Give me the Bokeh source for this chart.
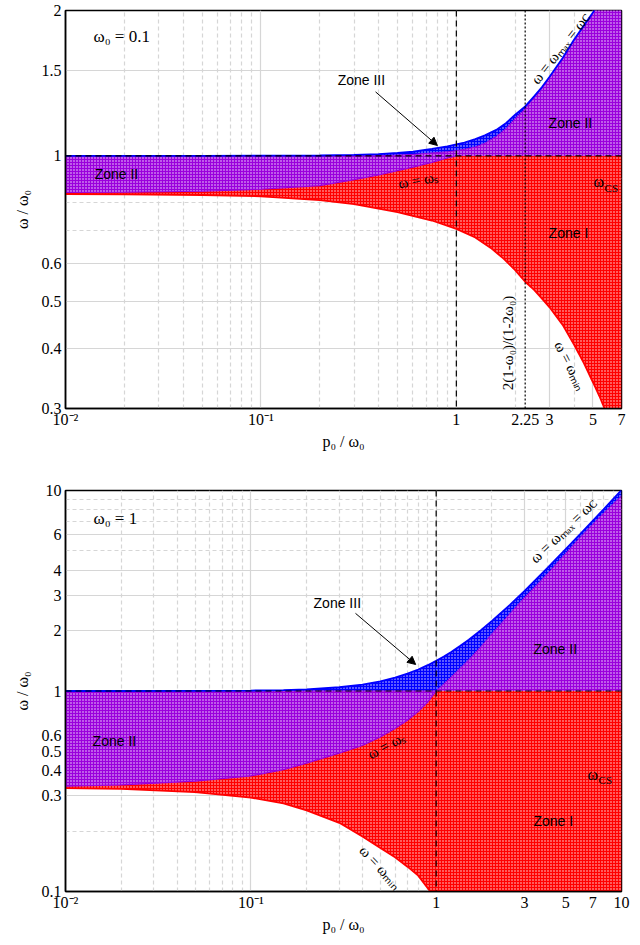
from bokeh.plotting import figure
from bokeh.layouts import column
from bokeh.models import FixedTicker, Grid, Arrow, NormalHead, Span, Label
from bokeh.embed import file_html
from bokeh.resources import INLINE

# ---------------- data : top panel (omega0 = 0.1) ----------------
top_x = [0.01, 0.02, 0.05, 0.1, 0.2, 0.3, 0.4, 0.5, 0.6, 0.75, 0.9, 1.0, 1.1, 1.25, 1.4, 1.6, 1.8,
         2.0, 2.25, 2.5, 2.75, 3.0, 3.5, 4.0, 4.5, 5.0, 5.5, 6.0, 7.0]
top_wmax = [1.0, 1.0, 1.0, 1.001, 1.002, 1.005, 1.009, 1.014, 1.02, 1.034, 1.047, 1.056, 1.066, 1.083,
            1.103, 1.132, 1.17, 1.217, 1.266, 1.328, 1.39, 1.458, 1.595, 1.74, 1.863, 1.98, 2.12, 2.28, 2.6]
top_wc = [1.0, 1.0, 1.0, 1.0, 1.0, 1.0, 1.001, 1.004, 1.007, 1.014, 1.02, 1.025, 1.032, 1.043,
          1.062, 1.097, 1.14, 1.195, 1.252, 1.32, 1.382, 1.452, 1.59, 1.736, 1.86, 1.977, 2.118, 2.278, 2.598]
top_ws = [0.84, 0.841, 0.845, 0.853, 0.868, 0.893, 0.913, 0.932, 0.948, 0.97, 0.99, 1.0, 1.0, 1.0,
          1.0, 1.0, 1.0, 1.0, 1.0, 1.0, 1.0, 1.0, 1.0, 1.0, 1.0, 1.0, 1.0, 1.0, 1.0]
top_min_x = [0.01, 0.02, 0.05, 0.1, 0.2, 0.3, 0.5, 0.75, 1.0, 1.25, 1.5, 1.75, 2.0, 2.25, 2.5,
             2.75, 3.0, 3.5, 4.0, 4.5, 5.0, 5.4, 5.73]
top_wmin = [0.834, 0.833, 0.83, 0.825, 0.81, 0.795, 0.765, 0.735, 0.706, 0.678, 0.645, 0.612, 0.58,
            0.549, 0.528, 0.506, 0.486, 0.447, 0.407, 0.372, 0.34, 0.318, 0.3]

top_xticks = [0.01, 0.1, 1, 2.25, 3, 5, 7]
top_xtick_labels = ["10⁻²", "10⁻¹", "1", "2.25", "3", "5", "7"]
top_yticks = [0.3, 0.4, 0.5, 0.6, 1, 1.5, 2]
top_ytick_labels = ["0.3", "0.4", "0.5", "0.6", "1", "1.5", "2"]
top_xgrid_major = [0.1, 1, 3, 5]
top_xgrid_minor = [0.02, 0.03, 0.04, 0.05, 0.06, 0.07, 0.08, 0.09, 0.2, 0.3, 0.4, 0.5, 0.6, 0.7, 0.8, 0.9, 2, 4, 6]
top_ygrid_major = [0.4, 0.5, 0.6, 1.5]
top_ygrid_minor = [0.7, 0.8, 0.9]

# ---------------- data : bottom panel (omega0 = 1) ----------------
bot_x = [0.01, 0.02, 0.05, 0.1, 0.15, 0.2, 0.3, 0.4, 0.5, 0.6, 0.7, 0.8, 0.9, 1.0, 1.1, 1.2, 1.35, 1.5,
         1.75, 2.0, 2.5, 3.0, 4.0, 5.0, 6.0, 8.0, 10.0]
bot_wmax = [1.0, 1.0, 1.001, 1.005, 1.011, 1.02, 1.044, 1.077, 1.118, 1.166, 1.22, 1.28, 1.345, 1.414, 1.487,
            1.562, 1.68, 1.80, 2.015, 2.236, 2.69, 3.16, 4.12, 5.10, 6.08, 8.06, 10.05]
bot_wc = [1.0, 1.0, 1.0, 1.0, 1.0, 1.0, 1.0, 1.0, 1.0, 1.0, 1.0, 1.0, 1.0, 1.0, 1.085, 1.17, 1.3, 1.43,
          1.67, 1.93, 2.43, 2.93, 3.85, 4.85, 5.85, 7.7, 9.4]
bot_ws = [0.335, 0.34, 0.355, 0.377, 0.405, 0.437, 0.49, 0.535, 0.59, 0.65, 0.715, 0.79, 0.88, 1.0, 1.0, 1.0,
          1.0, 1.0, 1.0, 1.0, 1.0, 1.0, 1.0, 1.0, 1.0, 1.0, 1.0]
bot_min_x = [0.01, 0.02, 0.05, 0.1, 0.15, 0.2, 0.3, 0.4, 0.5, 0.6, 0.7, 0.8, 0.93]
bot_wmin = [0.328, 0.325, 0.313, 0.294, 0.275, 0.254, 0.22, 0.188, 0.165, 0.148, 0.133, 0.12, 0.1]

bot_xticks = [0.01, 0.1, 1, 3, 5, 7, 10]
bot_xtick_labels = ["10⁻²", "10⁻¹", "1", "3", "5", "7", "10"]
bot_yticks = [0.1, 0.3, 0.4, 0.5, 0.6, 1, 2, 3, 4, 6, 10]
bot_ytick_labels = ["0.1", "0.3", "0.4", "0.5", "0.6", "1", "2", "3", "4", "6", "10"]
bot_xgrid_major = [0.1, 1, 3, 5, 7]
bot_xgrid_minor = [0.02, 0.03, 0.04, 0.05, 0.06, 0.07, 0.08, 0.09, 0.2, 0.3, 0.4, 0.5, 0.6, 0.7, 0.8, 0.9, 2, 4, 6, 8, 9]
bot_ygrid_major = [0.3, 0.4, 0.5, 0.6, 2, 3, 4, 6]
bot_ygrid_minor = [0.2, 0.7, 0.8, 0.9, 5, 7, 8, 9]

RED = "#ff0000"
PURPLE = "#9a00dc"
BLUE = "#0000ff"
SERIF = "Liberation Serif"
SANS = "Liberation Sans"


def make_panel(xr, yr, height, border_top, border_bottom, xticks, xlabels, yticks, ylabels,
               xg_major, xg_minor, yg_major, yg_minor):
    p = figure(width=640, height=height, x_axis_type="log", y_axis_type="log",
               x_range=xr, y_range=yr, output_backend="svg", toolbar_location=None,
               min_border_left=65, min_border_right=19, min_border_top=border_top,
               min_border_bottom=border_bottom)
    p.outline_line_color = "black"
    p.outline_line_width = 1.5
    p.background_fill_color = "white"
    p.border_fill_color = "white"
    for ax, ticks, labels in ((p.xaxis[0], xticks, xlabels), (p.yaxis[0], yticks, ylabels)):
        ax.ticker = FixedTicker(ticks=ticks, minor_ticks=[])
        ax.major_label_overrides = {t: l for t, l in zip(ticks, labels)}
        ax.major_tick_line_color = None
        ax.minor_tick_line_color = None
        ax.major_tick_out = 0
        ax.major_tick_in = 0
        ax.axis_line_color = "black"
        ax.axis_line_width = 1.5
        ax.major_label_text_font = SERIF
        ax.major_label_text_font_size = "16px"
        ax.major_label_text_color = "black"
        ax.axis_label_text_font = SERIF
        ax.axis_label_text_font_size = "16px"
        ax.axis_label_text_font_style = "normal"
        ax.axis_label_text_color = "black"
    p.xaxis.major_label_standoff = 2
    p.xaxis.axis_label_standoff = 2
    p.yaxis.major_label_standoff = 4
    p.yaxis.axis_label_standoff = 8
    p.xaxis.axis_label = "p₀ / ω₀"
    p.yaxis.axis_label = "ω / ω₀"
    # grids
    p.xgrid.ticker = FixedTicker(ticks=xg_major, minor_ticks=[])
    p.ygrid.ticker = FixedTicker(ticks=yg_major, minor_ticks=[])
    for g in (p.xgrid[0], p.ygrid[0]):
        g.grid_line_color = "#d6d6d6"
        g.grid_line_width = 1.2
    p.add_layout(Grid(dimension=0, ticker=FixedTicker(ticks=xg_minor, minor_ticks=[]),
                      grid_line_color="#d6d6d6", grid_line_dash="4 3", grid_line_width=1.2))
    p.add_layout(Grid(dimension=1, ticker=FixedTicker(ticks=yg_minor, minor_ticks=[]),
                      grid_line_color="#d6d6d6", grid_line_dash="4 3", grid_line_width=1.2))
    return p


def zones(p, x, wmax, wc, ws, xmin, wmin, ybottom, xright):
    hatch = dict(hatch_pattern="dot", hatch_color="white", hatch_scale=3.0, hatch_weight=0.8, hatch_alpha=0.9)
    # Zone I (red)
    rx = list(x) + [xright] + list(reversed(xmin))
    ry = list(ws) + [ybottom] + list(reversed(wmin))
    p.patch(rx, ry, fill_color=RED, line_color=None, **hatch)
    # Zone II (purple)
    p.patch(list(x) + list(reversed(x)), list(ws) + list(reversed(wc)),
            fill_color=PURPLE, line_color=None, **hatch)
    # Zone III (blue)
    p.patch(list(x) + list(reversed(x)), list(wc) + list(reversed(wmax)),
            fill_color=BLUE, line_color=None, **hatch)
    n1 = x.index(1.0) + 1
    p.line(x[:n1], ws[:n1], line_color=PURPLE, line_width=1.2)
    p.line(x, wc, line_color=PURPLE, line_width=1.0)
    p.line(x, wmax, line_color=BLUE, line_width=1.8)
    p.line(xmin, wmin, line_color=RED, line_width=1.8)
    p.add_layout(Span(location=1, dimension="width", line_color="black", line_dash="6 4", line_width=1.2))
    p.add_layout(Span(location=1, dimension="height", line_color="black", line_dash="6 4", line_width=1.2))


def lab(p, x, y, text, font=SERIF, size="15px", angle=0, align="left", baseline="middle", xo=0, yo=0):
    p.add_layout(Label(x=x, y=y, text=text, text_font=font, text_font_size=size, angle=angle,
                       angle_units="deg", text_align=align, text_baseline=baseline,
                       x_offset=xo, y_offset=yo, text_color="black"))


# ---------------- top panel ----------------
H1 = 452
p1 = make_panel((0.01, 7), (0.3, 2), H1, 10, H1 - 411, top_xticks, top_xtick_labels,
                top_yticks, top_ytick_labels, top_xgrid_major, top_xgrid_minor,
                top_ygrid_major, top_ygrid_minor)
zones(p1, top_x, top_wmax, top_wc, top_ws, top_min_x, top_wmin, 0.3, 7.0)
p1.add_layout(Span(location=2.25, dimension="height", line_color="black", line_dash="2 2", line_width=1.2))

lab(p1, 0.0139, 1.769, "ω₀ = 0.1", size="17px")
lab(p1, 0.0141, 0.916, "Zone II", font=SANS, size="14px")
lab(p1, 0.247, 1.433, "Zone III", font=SANS, size="14px")
lab(p1, 2.965, 1.169, "Zone II", font=SANS, size="14px")
lab(p1, 2.965, 0.693, "Zone I", font=SANS, size="14px")
lab(p1, 0.64, 0.891, "ω = ωₛ", angle=10, align="center")
lab(p1, 5.04, 0.885, "ω", size="16px")
lab(p1, 5.04, 0.885, "CS", size="11px", xo=11, yo=-6)
lab(p1, 3.41, 1.67, "ω = ωₘₐₓ = ωᴄ", angle=52, align="center")
lab(p1, 3.84, 0.3675, "ω = ωₘᵢₙ", angle=-63, align="center")
lab(p1, 1.84, 0.41, "2(1-ω₀)/(1-2ω₀)", angle=90, align="center")
p1.add_layout(Arrow(end=NormalHead(size=8, fill_color="black", line_color="black"),
                    x_start=0.386, y_start=1.357, x_end=0.80, y_end=1.051,
                    line_color="black", line_width=1))

# ---------------- bottom panel ----------------
H2 = 945 - H1
p2 = make_panel((0.01, 10), (0.1, 10), H2, 490 - H1, 54, bot_xticks, bot_xtick_labels,
                bot_yticks, bot_ytick_labels, bot_xgrid_major, bot_xgrid_minor,
                bot_ygrid_major, bot_ygrid_minor)
zones(p2, bot_x, bot_wmax, bot_wc, bot_ws, bot_min_x, bot_wmin, 0.1, 10.0)

lab(p2, 0.01416, 7.25, "ω₀ = 1", size="17px")
lab(p2, 0.218, 2.75, "Zone III", font=SANS, size="14px")
lab(p2, 3.35, 1.62, "Zone II", font=SANS, size="14px")
lab(p2, 0.014, 0.56, "Zone II", font=SANS, size="14px")
lab(p2, 3.35, 0.226, "Zone I", font=SANS, size="14px")
lab(p2, 6.56, 0.385, "ω", size="16px")
lab(p2, 6.56, 0.385, "CS", size="11px", xo=11, yo=-6)
lab(p2, 0.54, 0.535, "ω = ωₛ", angle=28, align="center")
lab(p2, 0.50, 0.132, "ω = ωₘᵢₙ", angle=-47, align="center")
lab(p2, 4.87, 6.32, "ω = ωₘₐₓ = ωᴄ", angle=44, align="center")
p2.add_layout(Arrow(end=NormalHead(size=8, fill_color="black", line_color="black"),
                    x_start=0.367, y_start=2.44, x_end=0.775, y_end=1.356,
                    line_color="black", line_width=1))

layout = column(p1, p2, spacing=0)
open("out.html", "w").write(file_html(layout, INLINE))
